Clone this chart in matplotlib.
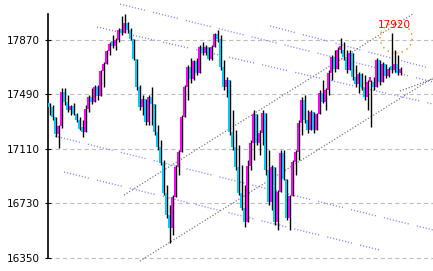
import matplotlib
matplotlib.use("Agg")
import matplotlib.pyplot as plt
from matplotlib.patches import Ellipse
import numpy as np

# one candle per session: high, low, close (open = previous close)
hi = [17430, 17416, 17325, 17276, 17535, 17535, 17486, 17416, 17430, 17360,
      17332, 17311, 17416, 17486, 17535, 17556, 17556, 17660, 17716, 17800,
      17856, 17905, 17884, 17954, 18038, 18052, 17996, 17954, 17856, 17730,
      17556, 17486, 17451, 17486, 17542, 17416, 17276, 17171, 17032, 16857,
      16717, 16787, 16997, 17102, 17346, 17556, 17695, 17744, 17730, 17744,
      17835, 17856, 17835, 17814, 17835, 17919, 17940, 17905, 17730, 17612,
      17556, 17381, 17241, 17136, 16997, 16857, 17032, 17171, 17381, 17311,
      17241, 17381, 17311, 17102, 16997, 16857, 16822, 17102, 17102, 16892,
      16787, 17032, 17102, 17311, 17472, 17486, 17381, 17381, 17367, 17360,
      17521, 17591, 17535, 17660, 17765, 17800, 17821, 17884, 17856, 17800,
      17800, 17765, 17695, 17646, 17639, 17625, 17591, 17591, 17612, 17744,
      17674, 17716, 17695, 17681, 17920, 17800, 17765, 17681]
lo = [17346, 17311, 17192, 17116, 17255, 17416, 17367, 17346, 17346, 17297,
      17241, 17192, 17227, 17367, 17423, 17465, 17451, 17486, 17542, 17709,
      17765, 17814, 17800, 17856, 17905, 17940, 17919, 17870, 17730, 17521,
      17381, 17346, 17276, 17276, 17276, 17206, 17102, 16997, 16787, 16627,
      16452, 16508, 16808, 16927, 17102, 17332, 17451, 17570, 17591, 17625,
      17716, 17765, 17765, 17730, 17730, 17821, 17856, 17660, 17521, 17472,
      17206, 17102, 16962, 16787, 16683, 16564, 16752, 16962, 17032, 17136,
      17067, 17136, 16927, 16717, 16683, 16578, 16543, 16857, 16892, 16613,
      16543, 16857, 16927, 17032, 17206, 17290, 17220, 17241, 17220, 17241,
      17367, 17430, 17381, 17486, 17591, 17646, 17674, 17779, 17730, 17639,
      17681, 17591, 17542, 17500, 17521, 17451, 17381, 17262, 17521, 17577,
      17556, 17591, 17605, 17612, 17639, 17646, 17625, 17625]
cl = [17400, 17330, 17210, 17270, 17510, 17440, 17380, 17410, 17350, 17310,
      17250, 17230, 17390, 17470, 17440, 17540, 17480, 17650, 17700, 17790,
      17840, 17830, 17870, 17940, 17920, 17990, 17940, 17880, 17740, 17540,
      17400, 17460, 17300, 17470, 17420, 17230, 17120, 17010, 16800, 16650,
      16560, 16770, 16980, 17090, 17330, 17540, 17680, 17600, 17720, 17640,
      17820, 17780, 17820, 17740, 17820, 17910, 17880, 17680, 17540, 17590,
      17230, 17120, 16980, 16800, 16700, 16600, 16990, 17150, 17350, 17150,
      17220, 17360, 16960, 16740, 16980, 16600, 16810, 17080, 16900, 16630,
      16780, 17020, 17090, 17290, 17450, 17310, 17240, 17370, 17240, 17350,
      17500, 17440, 17520, 17640, 17750, 17670, 17800, 17800, 17750, 17660,
      17780, 17610, 17560, 17630, 17540, 17470, 17580, 17580, 17540, 17730,
      17580, 17700, 17620, 17670, 17660, 17700, 17640, 17660]
first_open = 17420

yticks = [16350, 16730, 17110, 17490, 17870]

# trend lines as (x0, price0, x1, price1), x in candle index
chan_down = [(23.7, 18121, 128, 17577),
             (16.0, 17961, 128, 17423),
             (73.7, 17968, 128, 17667),
             (2.0, 17199, 128, 16543),
             (5.0, 16948, 110.3, 16403)]
chan_up = [(25.0, 16787, 121.3, 18052),
           (30.3, 16326, 128, 17605),
           (117.0, 17514, 128, 17598)]

MAG = "#ff00ff"
CYN = "#00c8f8"

plt.rcParams['lines.scale_dashes'] = False
fig = plt.figure(figsize=(4.33, 2.71), dpi=100)
ax = fig.add_axes([48 / 433, 0, 385 / 433, 1])
ax.set_xlim(-1 / 3, 128)
ax.set_ylim(16256.5, 18149.4)

for s in ['top', 'right', 'bottom']:
    ax.spines[s].set_visible(False)
ax.spines['left'].set_bounds(16350, 18052)
ax.spines['left'].set_linewidth(1.2)

ax.set_xticks([])
ax.set_yticks(yticks)
ax.set_yticklabels([str(t) for t in yticks], fontsize=7.5)
ax.tick_params(axis='y', direction='inout', length=4, width=0.8, pad=4)
ax.yaxis.grid(True, color="#bdbdbd", linewidth=0.8, dashes=(3, 2.2))
ax.set_axisbelow(True)

# channel lines
for x0, y0, x1, y1 in chan_down:
    ax.plot([x0, x1], [y0, y1], color="#8a8af5", lw=1.0, clip_on=False,
            dashes=[0.8, 1.4] * 8 + [0.8, 6], zorder=2)
for x0, y0, x1, y1 in chan_up:
    ax.plot([x0, x1], [y0, y1], color="#707070", lw=0.9, clip_on=False,
            dashes=(0.8, 1.4), zorder=2)

x = np.arange(len(cl))
op = np.array([first_open] + cl[:-1])
c = np.array(cl)
up = c >= op
cols = [MAG if u else CYN for u in up]
bot = np.minimum(op, c)
h = np.maximum(np.abs(c - op), 30)
h_ = np.maximum(np.array(hi), np.maximum(op, c))
l_ = np.minimum(np.array(lo), np.minimum(op, c))

ax.vlines(x + 0.3, l_, h_, color="black", lw=1.0, zorder=3)
ax.bar(x, h, bottom=bot, width=0.85, color=cols, linewidth=0, zorder=4)

# mark the spike high
k = int(np.argmax(np.array(hi[100:]))) + 100
ax.text(k + 1, hi[k] + 20, str(hi[k]), color="red", fontsize=7.5,
        ha="center", va="bottom", zorder=6)
ax.add_patch(Ellipse((k + 1.7, hi[k] - 36), 10.7, 210, fill=False,
                     edgecolor="#ff8000", lw=1.0, linestyle=(0, (1, 3)),
                     zorder=5))

fig.savefig("out.png", dpi=100)
